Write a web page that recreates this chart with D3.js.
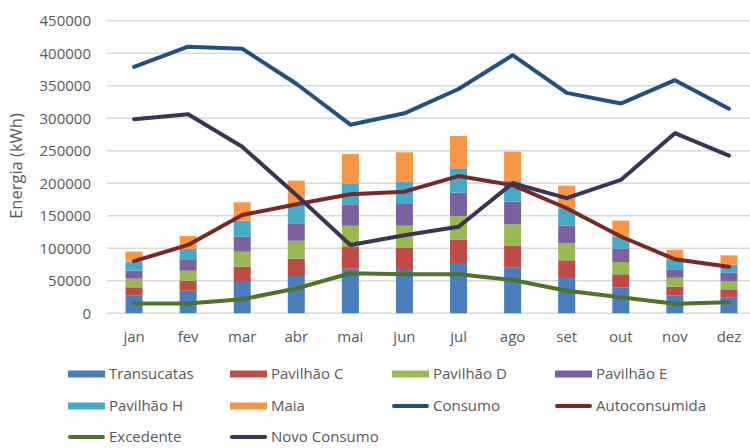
<!DOCTYPE html>
<html>
<head>
<meta charset="utf-8">
<script src="https://cdn.jsdelivr.net/npm/d3@7/dist/d3.min.js"></script>
<style>
  html, body { margin: 0; padding: 0; background: #fff; }
  svg { display: block; }
  text { font-family: "Open Sans", "Liberation Sans", sans-serif; fill: #595959; }
</style>
</head>
<body>
<svg id="chart" width="750" height="448"></svg>
<script>
const months = ['jan','fev','mar','abr','mai','jun','jul','ago','set','out','nov','dez'];
const transucatas = [27000,34600,48000,57200,68400,66500,77200,70000,55700,39800,27500,24400];
const pavilhaoC   = [12900,15400,23500,26600,33400,33800,35900,33400,25700,20000,13300,12300];
const pavilhaoD   = [13300,15400,23100,27700,32800,34300,36400,33400,26100,19000,13800,12800];
const pavilhaoE   = [12300,16400,23100,26800,32900,33400,35900,34700,27100,20400,12900,12800];
const pavilhaoH   = [13800,17000,24600,28200,32300,34900,37500,31900,26800,18500,15400,12300];
const maia        = [15400,20000,28300,37400,45100,44600,49700,45100,34800,24600,14800,14400];
const consumo       = [379000,410000,407000,353000,290000,307500,345000,397000,339000,322500,358500,314500];
const autoconsumida = [80000,105000,151000,167500,183000,187000,211000,197000,161500,118000,83000,71500];
const excedente     = [15000,15000,21500,38000,61500,60000,60000,51000,34500,24500,14500,17000];
const novoConsumo   = [298500,306000,256000,182000,105000,120000,133000,200000,177000,205000,277000,242500];
const yTicks = [0,50000,100000,150000,200000,250000,300000,350000,400000,450000];

const barSeries = [
  {name:'Transucatas', values:transucatas, color:'#4A7EBB'},
  {name:'Pavilhão C', values:pavilhaoC, color:'#BE4B48'},
  {name:'Pavilhão D', values:pavilhaoD, color:'#98B954'},
  {name:'Pavilhão E', values:pavilhaoE, color:'#7D60A0'},
  {name:'Pavilhão H', values:pavilhaoH, color:'#46AAC5'},
  {name:'Maia', values:maia, color:'#F79646'}
];
const lineSeries = [
  {name:'Consumo', values:consumo, color:'#23507C'},
  {name:'Autoconsumida', values:autoconsumida, color:'#772926'},
  {name:'Excedente', values:excedente, color:'#50722A'},
  {name:'Novo Consumo', values:novoConsumo, color:'#3E3355'}
];

const svg = d3.select('#chart');
const plotLeft = 107, plotRight = 756, plotTop = 20.7, plotBottom = 313.2;

const x = d3.scaleBand().domain(months).range([plotLeft, plotRight]).padding(0);
const y = d3.scaleLinear().domain([0, 450000]).range([plotBottom, plotTop]);
const barW = 17;

// gridlines
svg.append('g').selectAll('line').data(yTicks).join('line')
  .attr('x1', plotLeft).attr('x2', 750)
  .attr('y1', d => y(d)).attr('y2', d => y(d))
  .attr('stroke', '#d9d9d9').attr('stroke-width', 1.5);

// y tick labels
svg.append('g').selectAll('text').data(yTicks).join('text')
  .attr('x', 91).attr('y', d => y(d)).attr('dy', '0.36em')
  .attr('text-anchor', 'end').attr('font-size', 15)
  .text(d => d3.format('d')(d));

// y title
svg.append('text')
  .attr('transform', 'translate(22,166) rotate(-90)')
  .attr('text-anchor', 'middle').attr('font-size', 16.5)
  .text('Energia (kWh)');

// month labels
svg.append('g').selectAll('text').data(months).join('text')
  .attr('x', d => x(d) + x.bandwidth()/2).attr('y', 342)
  .attr('text-anchor', 'middle').attr('font-size', 15)
  .text(d => d);

// stacked bars
const table = months.map((m, i) => {
  const row = {month: m};
  barSeries.forEach(s => row[s.name] = s.values[i]);
  return row;
});
const stack = d3.stack().keys(barSeries.map(s => s.name))(table);
svg.append('g').selectAll('g').data(stack).join('g')
  .attr('fill', (d, i) => barSeries[i].color)
  .selectAll('rect').data(d => d).join('rect')
  .attr('x', d => x(d.data.month) + x.bandwidth()/2 - barW/2)
  .attr('width', barW)
  .attr('y', d => y(d[1]))
  .attr('height', d => y(d[0]) - y(d[1]));

// lines
const line = d3.line()
  .x((d, i) => x(months[i]) + x.bandwidth()/2)
  .y(d => y(d));
svg.append('g').selectAll('path').data(lineSeries).join('path')
  .attr('d', d => line(d.values))
  .attr('fill', 'none')
  .attr('stroke', d => d.color)
  .attr('stroke-width', 4)
  .attr('stroke-linejoin', 'round')
  .attr('stroke-linecap', 'round');

// legend
const legendItems = barSeries.map(s => ({...s, type:'bar'})).concat(lineSeries.map(s => ({...s, type:'line'})));
const colX = [68, 230, 392, 555];
const rowY = [374, 406, 437];
const lg = svg.append('g').selectAll('g').data(legendItems).join('g')
  .attr('transform', (d, i) => `translate(${colX[i % 4]},${rowY[Math.floor(i / 4)]})`);
lg.filter(d => d.type === 'bar').append('rect')
  .attr('x', 0).attr('y', -3.5).attr('width', 37).attr('height', 7)
  .attr('fill', d => d.color);
lg.filter(d => d.type === 'line').append('line')
  .attr('x1', 2).attr('x2', 35).attr('y1', 0).attr('y2', 0)
  .attr('stroke', d => d.color).attr('stroke-width', 4).attr('stroke-linecap', 'round');
lg.append('text')
  .attr('x', 41).attr('y', 0).attr('dy', '0.36em')
  .attr('font-size', 15).attr('fill', '#404040')
  .text(d => d.name);
</script>
</body>
</html>
